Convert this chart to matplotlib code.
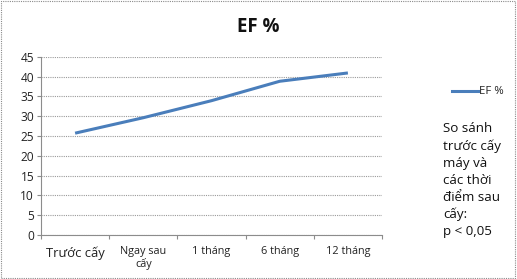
import matplotlib
matplotlib.use("Agg")
import matplotlib.pyplot as plt
from matplotlib.patches import Rectangle
from matplotlib.lines import Line2D

categories = ["Trước cấy", "Ngay sau\ncấy", "1 tháng", "6 tháng", "12 tháng"]
ef_values = [25.7, 29.6, 33.9, 38.8, 40.9]
y_ticks = [0, 5, 10, 15, 20, 25, 30, 35, 40, 45]
series_name = "EF %"
title = "EF %"
note = "So sánh\ntrước cấy\nmáy và\ncác thời\nđiểm sau\ncấy:\np < 0,05"

plt.rcParams['font.family'] = ['Open Sans', 'DejaVu Sans']

W, H = 517, 279
fig = plt.figure(figsize=(W / 100, H / 100), dpi=100)
ax = fig.add_axes([41 / W, 1 - 235 / H, (382 - 41) / W, (235 - 56.7) / H])

x = list(range(len(categories)))
ax.plot(x, ef_values, color="#4A7EBB", lw=2.2, solid_capstyle="butt")

ax.set_xlim(-0.5, len(categories) - 0.5)
ax.set_ylim(0, 45)
ax.set_yticks(y_ticks)
ax.set_yticklabels([str(v) for v in y_ticks], fontsize=8.6, color="#222222")
ax.grid(axis="y", color="#9a9a9a", lw=0.8, ls=(0, (1, 1)))
ax.set_axisbelow(True)

ax.set_xticks(x)
ax.set_xticklabels(categories, fontsize=7.8, color="#222222", linespacing=1.15)
for lbl in ax.get_xticklabels():
    if lbl.get_text() == categories[0]:
        lbl.set_fontsize(9.4)
ax.set_xticks([i - 0.5 for i in range(len(categories) + 1)], minor=True)
ax.tick_params(axis="x", which="major", length=0, pad=8)
ax.tick_params(axis="x", which="minor", length=3, color="#8c8c8c", width=0.8)
ax.tick_params(axis="y", which="major", length=3, color="#8c8c8c", width=0.8, pad=2)

for s in ["top", "right"]:
    ax.spines[s].set_visible(False)
for s in ["left", "bottom"]:
    ax.spines[s].set_color("#8c8c8c")
    ax.spines[s].set_linewidth(0.8)

fig.text(258 / W, 1 - 27 / H, title, ha="center", va="center",
         fontsize=13.5, fontweight="bold", color="#111111")

# legend
fig.add_artist(Line2D([452 / W, 478 / W], [1 - 91 / H, 1 - 91 / H],
                      color="#4A7EBB", lw=2.2, transform=fig.transFigure))
fig.text(479 / W, 1 - 91 / H, series_name, ha="left", va="center",
         fontsize=8.2, color="#222222")

fig.text(443 / W, 1 - 122 / H, note, ha="left", va="top",
         fontsize=9.6, color="#111111", linespacing=1.4)

fig.add_artist(Rectangle((0.002, 0.003), 0.995, 0.993, transform=fig.transFigure,
                         fill=False, ec="#8a8a8a", lw=0.8, ls=(0, (1, 1))))

fig.savefig("out.png", dpi=100)
